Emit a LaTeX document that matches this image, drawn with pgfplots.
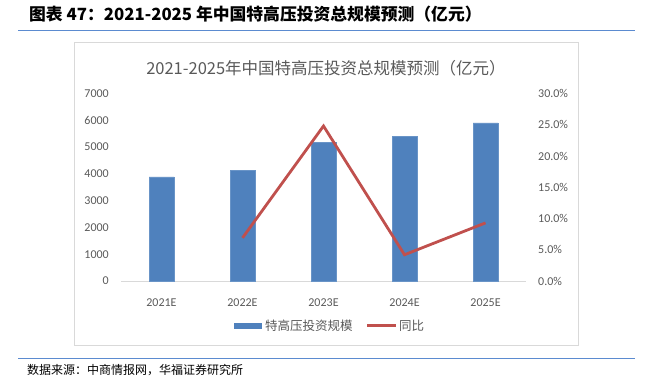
\documentclass[border=0pt]{standalone}
\usepackage{fontspec}
\setmainfont{Carlito}
\newfontfamily\cjk{Noto Sans CJK SC}
\usepackage{pgfplots}
\pgfplotsset{compat=1.18}
\definecolor{barblue}{HTML}{4F81BD}
\definecolor{linered}{HTML}{C0504D}
\definecolor{txtgray}{HTML}{595959}
\definecolor{framegray}{HTML}{D9D9D9}
\definecolor{hdrblue}{HTML}{5B8BD0}
\begin{document}
\begin{tikzpicture}[x=1bp,y=1bp]
\path[use as bounding box] (0,0) rectangle (649,378);
% header
\node[anchor=west,inner sep=0pt] at (29,364) {\cjk\bfseries\fontsize{16.8bp}{19bp}\selectfont 图表 47：2021-2025 年中国特高压投资总规模预测（亿元）};
\draw[hdrblue,line width=1.4bp] (18,347.3) -- (635,347.3);
% chart frame
\draw[framegray,line width=0.8bp] (74,335.3) rectangle (578,33);
% chart title
\node[text=txtgray,inner sep=0pt] at (326,310) {\cjk\fontsize{16.5bp}{19bp}\selectfont 2021-2025年中国特高压投资总规模预测（亿元）};
\begin{axis}[
  at={(121bp,97bp)}, anchor=south west,
  scale only axis, width=405bp, height=187.5bp,
  xmin=-0.5, xmax=4.5, ymin=0, ymax=7000,
  ytick={0,1000,...,7000},
  xtick={0,1,2,3,4},
  xticklabels={2021E,2022E,2023E,2024E,2025E},
  axis line style={draw=none},
  axis y line*=left,
  axis x line*=bottom,
  tick style={draw=none},
  /pgf/number format/assume math mode=true,
  /pgf/number format/set thousands separator={},
  yticklabel style={font=\fontsize{12bp}{13bp}\selectfont, text=txtgray, anchor=east, inner sep=0pt, xshift=-12bp},
  xticklabel style={font=\fontsize{12bp}{13bp}\selectfont, text=txtgray, anchor=center, inner sep=0pt, yshift=-17bp},
  ybar, bar width=25bp,
  clip=false,
]
\draw[framegray,line width=0.8bp] (rel axis cs:0,0) -- (rel axis cs:1,0);
\addplot[fill=barblue, draw=barblue!85!white] coordinates {(0,3890) (1,4130) (2,5175) (3,5410) (4,5900)};
\end{axis}
\begin{axis}[
  at={(121bp,97bp)}, anchor=south west,
  scale only axis, width=405bp, height=187.5bp,
  xmin=-0.5, xmax=4.5, ymin=0, ymax=30,
  ytick={0,5,...,30},
  xtick=\empty,
  axis y line*=right,
  axis x line=none,
  axis line style={draw=none},
  tick style={draw=none},
  /pgf/number format/assume math mode=true,
  yticklabel={\pgfmathprintnumber[fixed,fixed zerofill,precision=1]{\tick}\%},
  yticklabel style={font=\fontsize{12bp}{13bp}\selectfont, text=txtgray, anchor=west, inner sep=0pt, xshift=12bp},
]
\addplot[linered, line width=2.8bp, mark=none] coordinates {(1,6.9) (2,24.8) (3,4.2) (4,9.3)};
\end{axis}
% legend
\fill[barblue] (234,49.3) rectangle (262,55.3);
\node[anchor=west,inner sep=0pt,text=txtgray] at (265,52.3) {\cjk\fontsize{12.5bp}{14bp}\selectfont 特高压投资规模};
\draw[linered,line width=2.8bp] (367,52.3) -- (396,52.3);
\node[anchor=west,inner sep=0pt,text=txtgray] at (399,52.3) {\cjk\fontsize{12.5bp}{14bp}\selectfont 同比};
% bottom line and source
\draw[hdrblue,line width=1.4bp] (18,19.7) -- (635,19.7);
\node[anchor=west,inner sep=0pt] at (27,8) {\cjk\fontsize{12bp}{13bp}\selectfont 数据来源：中商情报网，华福证券研究所};
\end{tikzpicture}
\end{document}
